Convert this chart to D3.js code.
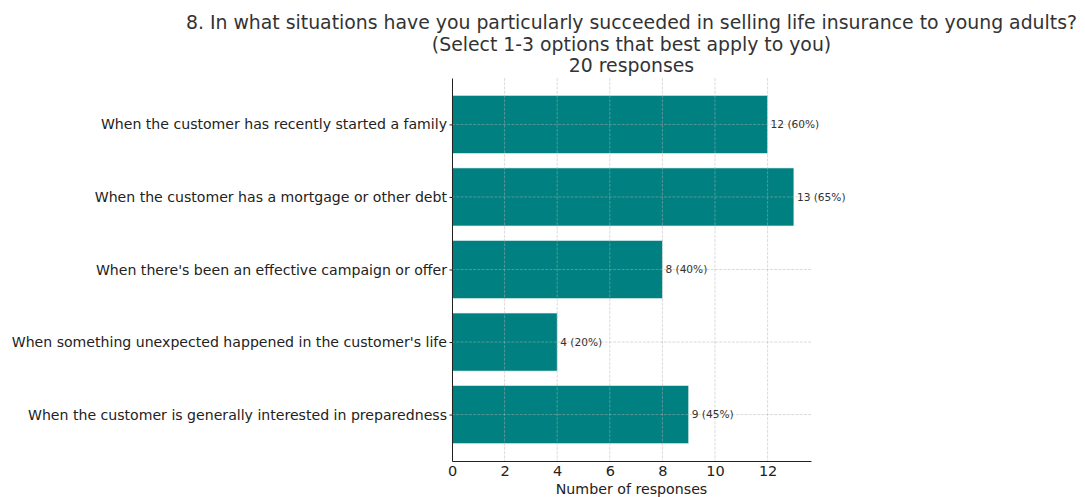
<!DOCTYPE html>
<html>
<head>
<meta charset="utf-8">
<script src="https://cdn.jsdelivr.net/npm/d3@7"></script>
<style>
  html, body { margin: 0; padding: 0; background: #fff; }
  svg { display: block; font-family: "DejaVu Sans", sans-serif; }
</style>
</head>
<body>
<svg id="chart" width="1085" height="497"></svg>
<script>
// Survey answers, top to bottom
const categories = [
  "When the customer has recently started a family",
  "When the customer has a mortgage or other debt",
  "When there's been an effective campaign or offer",
  "When something unexpected happened in the customer's life",
  "When the customer is generally interested in preparedness"
];
const counts = [12, 13, 8, 4, 9];
const totalResponses = 20;
const xTicks = [0, 2, 4, 6, 8, 10, 12];
const titleLines = [
  "8. In what situations have you particularly succeeded in selling life insurance to young adults?",
  "(Select 1-3 options that best apply to you)",
  `${totalResponses} responses`
];
const xLabel = "Number of responses";

const svg = d3.select("#chart");
const plot = { left: 452, right: 811, top: 78, bottom: 461 };

// matplotlib-like margins: 5% padding on x, bars of height 0.8 with padding on y
const xMax = d3.max(counts) * 1.05;
const x = d3.scaleLinear().domain([0, xMax]).range([plot.left, plot.right]);
const n = categories.length;
const ySpan = (n - 1) + 0.8;
const yPad = ySpan * 0.05;
const y = d3.scaleLinear()
  .domain([-0.4 - yPad, (n - 1) + 0.4 + yPad])
  .range([plot.top, plot.bottom]);
const barH = Math.abs(y(0.8) - y(0));

// Bars
svg.append("g").selectAll("rect")
  .data(counts)
  .join("rect")
  .attr("x", x(0))
  .attr("y", (d, i) => y(i - 0.4))
  .attr("width", d => x(d) - x(0))
  .attr("height", barH)
  .attr("fill", "#008080")
  .attr("stroke", "#e8f2f2")
  .attr("stroke-width", 0.6);

// Grid (drawn over bars, dashed and light)
const grid = svg.append("g")
  .attr("stroke", "#b0b0b0")
  .attr("stroke-opacity", 0.6)
  .attr("stroke-width", 0.8)
  .attr("stroke-dasharray", "2.96,1.28");
grid.selectAll("line.v")
  .data(xTicks.filter(t => t > 0))
  .join("line")
  .attr("x1", d => x(d)).attr("x2", d => x(d))
  .attr("y1", plot.top).attr("y2", plot.bottom);
grid.selectAll("line.h")
  .data(d3.range(n))
  .join("line")
  .attr("x1", plot.left).attr("x2", plot.right)
  .attr("y1", d => y(d)).attr("y2", d => y(d));

// Value labels
svg.append("g").selectAll("text")
  .data(counts)
  .join("text")
  .attr("x", d => x(d) + 3)
  .attr("y", (d, i) => y(i))
  .attr("dy", "0.35em")
  .attr("font-size", 10.6)
  .attr("fill", "#333")
  .text(d => `${d} (${Math.round(d / totalResponses * 100)}%)`);

// X axis
const xAxis = svg.append("g")
  .attr("transform", `translate(0,${plot.bottom})`)
  .call(d3.axisBottom(x).tickValues(xTicks).tickSize(0).tickPadding(4.5).tickSizeOuter(0));
xAxis.select(".domain").attr("stroke", "#222").attr("stroke-width", 1);
xAxis.selectAll(".tick line").attr("stroke", "#222");
xAxis.selectAll(".tick text").attr("font-size", 14.5).attr("fill", "#222")
  .attr("font-family", "DejaVu Sans, sans-serif");

// Y axis
const yAxis = svg.append("g")
  .attr("transform", `translate(${plot.left},0)`)
  .call(d3.axisLeft(y).tickValues(d3.range(n)).tickFormat(i => categories[i])
    .tickSize(2.5).tickPadding(2.5).tickSizeOuter(0));
yAxis.select(".domain").attr("stroke", "#222").attr("stroke-width", 1);
yAxis.selectAll(".tick line").attr("stroke", "#222");
yAxis.selectAll(".tick text").attr("font-size", 14.1).attr("fill", "#222")
  .attr("font-family", "DejaVu Sans, sans-serif");

// Axis title
svg.append("text")
  .attr("x", (plot.left + plot.right) / 2)
  .attr("y", 494)
  .attr("text-anchor", "middle")
  .attr("font-size", 14.2)
  .attr("fill", "#222")
  .text(xLabel);

// Title, centred over the plot area
const titleBase = [29, 51, 72];
svg.append("g").selectAll("text")
  .data(titleLines)
  .join("text")
  .attr("x", (plot.left + plot.right) / 2)
  .attr("y", (d, i) => titleBase[i])
  .attr("text-anchor", "middle")
  .attr("font-size", 18.85)
  .attr("fill", "#333")
  .text(d => d);
</script>
</body>
</html>
